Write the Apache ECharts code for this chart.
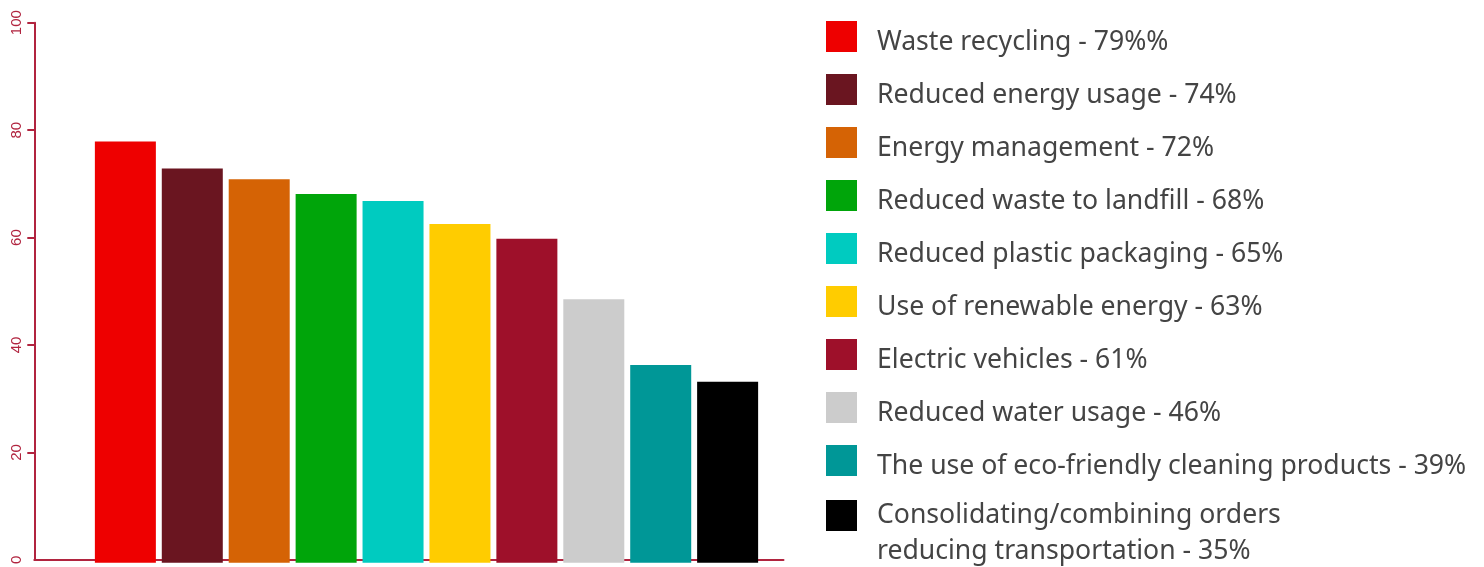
<!DOCTYPE html>
<html>
<head>
<meta charset="utf-8">
<script src="https://cdn.jsdelivr.net/npm/echarts@6/dist/echarts.min.js"></script>
<style>
html,body{margin:0;padding:0;background:#fff;}
#c{width:1484px;height:567px;}
</style>
</head>
<body>
<div id="c"></div>
<script>
const names = [
  'Waste recycling - 79%%',
  'Reduced energy usage - 74%',
  'Energy management - 72%',
  'Reduced waste to landfill - 68%',
  'Reduced plastic packaging - 65%',
  'Use of renewable energy - 63%',
  'Electric vehicles - 61%',
  'Reduced water usage - 46%',
  'The use of eco-friendly cleaning products - 39%',
  'Consolidating/combining orders\nreducing transportation - 35%'
];
const values = [78, 73, 71, 68.3, 67, 62.7, 60, 48.8, 36.6, 33.5];
const colors = ['#ee0000', '#6a1520', '#d56305', '#00a50a', '#00cbc0', '#ffcc00', '#9e102a', '#cccccc', '#009797', '#000000'];
const yTicks = [0, 20, 40, 60, 80, 100];

const axisColor = '#b1243f';
const chart = echarts.init(document.getElementById('c'), null, {renderer: 'canvas'});

const series = names.map((n, i) => ({
  name: n,
  type: 'bar',
  xAxisIndex: 1,
  yAxisIndex: 1,
  data: [values[i]],
  barWidth: 61,
  barGap: '9.7%',
  itemStyle: {color: colors[i]},
  emphasis: {disabled: true}
}));

const txt = {fontSize: 26.6, color: '#444444', fontFamily: 'Noto Sans'};

chart.setOption({
  animation: false,
  grid: [
    {left: 34.3, right: 700.5, top: 22.7, bottom: 4.3},
    {left: 92, right: 723, top: 22.7, bottom: 4.3}
  ],
  xAxis: [
    {type: 'category', gridIndex: 0, data: [''], boundaryGap: true,
     axisLine: {lineStyle: {color: axisColor, width: 2}},
     axisTick: {inside: true, length: 14, lineStyle: {color: axisColor, width: 2}},
     axisLabel: {show: false}},
    {type: 'category', gridIndex: 1, data: [''], show: false}
  ],
  yAxis: [
    {type: 'value', gridIndex: 0, min: yTicks[0], max: yTicks[yTicks.length - 1], interval: 20,
     splitLine: {show: false},
     axisLine: {show: true, lineStyle: {color: axisColor, width: 2}},
     axisTick: {show: true, length: 7, customValues: yTicks.slice(1), lineStyle: {color: axisColor, width: 2}},
     axisLabel: {rotate: 90, margin: 10, fontSize: 15, color: axisColor, fontFamily: 'Liberation Sans'}},
    {type: 'value', gridIndex: 1, min: 0, max: 100, show: false}
  ],
  legend: [
    {orient: 'vertical', left: 826, top: 21, padding: 0, itemWidth: 31, itemHeight: 31, itemGap: 18.5,
     icon: 'rect', selectedMode: false,
     formatter: n => '{t|' + n + '}',
     textStyle: Object.assign({}, txt, {
       rich: {t: Object.assign({}, txt, {padding: [11, 0, 0, 15]})}
     }),
     data: names.slice(0, 9)},
    {orient: 'vertical', left: 826, top: 466, padding: 0, itemWidth: 31, itemHeight: 31, itemGap: 22,
     icon: 'rect', selectedMode: false,
     formatter: n => '{m|\n' + n + '}',
     textStyle: Object.assign({}, txt, {
       rich: {m: Object.assign({}, txt, {lineHeight: 36, padding: [0, 0, 0, 15]})}
     }),
     data: names.slice(9)}
  ],
  series: series
});
</script>
</body>
</html>
